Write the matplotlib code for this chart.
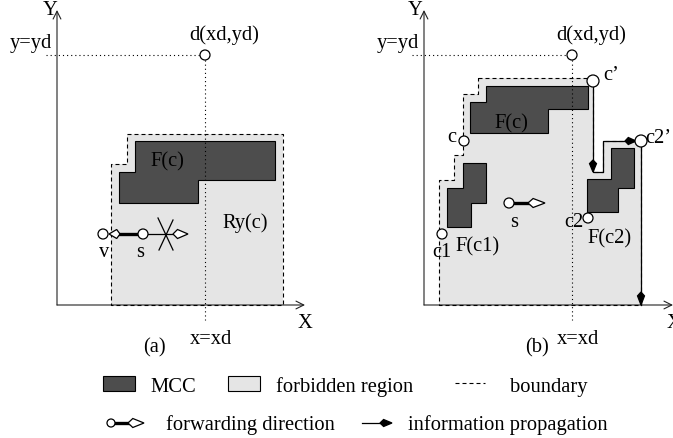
import matplotlib
matplotlib.use('Agg')
import matplotlib.pyplot as plt
from matplotlib.patches import Polygon, Circle, Rectangle

plt.rcParams['font.family'] = ['Liberation Serif', 'DejaVu Serif']
FS = 14.8

# ---- diagram geometry (pixel coords, y grows downward) ----
# panel (a)
axis_a = (57, 305, 10, 305)           # x of Y axis, y of X axis, top of Y, right end of X
dest_a = (205, 55)
forbidden_a = [(127, 134), (283, 134), (283, 305), (111, 305), (111, 164), (127, 164)]
mcc_a = [(135, 141), (275, 141), (275, 180), (198, 180), (198, 203), (119, 203), (119, 172), (135, 172)]
v_a = (103, 234)
s_a = (143, 234)

# panel (b)
axis_b = (424, 305, 10, 673)
dest_b = (572, 55)
forbidden_b = [(478, 78), (593, 78), (593, 172), (603, 172), (603, 141), (641, 141), (641, 305),
               (439, 305), (439, 180), (454, 180), (454, 155), (463, 155), (463, 94), (478, 94)]
mcc_c = [(486, 86), (588, 86), (588, 109), (548, 109), (548, 133), (470, 133), (470, 102), (486, 102)]
mcc_c1 = [(463, 163), (486, 163), (486, 203), (471, 203), (471, 227), (447, 227), (447, 188), (463, 188)]
mcc_c2 = [(611, 148), (634, 148), (634, 188), (618, 188), (618, 212), (587, 212), (587, 179), (611, 179)]
corners_b = {"c": (464, 141), "c'": (593, 81), "c1": (442, 234), "c2": (588, 218), "c2'": (641, 141)}
s_b = (509, 203)
propagation = [(593, 86), (593, 172), (603, 172), (603, 141), (636, 141)]
propagation2 = [(641, 146), (641, 305)]

labels = [
    ("Y", 43, 15), ("y=yd", 10, 48), ("d(xd,yd)", 189, 40), ("F(c)", 150, 166), ("Ry(c)", 222, 228),
    ("v", 99, 257), ("s", 136, 257), ("X", 298, 328), ("x=xd", 190, 344), ("(a)", 143, 352),
    ("Y", 408, 15), ("y=yd", 377, 48), ("d(xd,yd)", 556, 40), ("c\u2019", 603, 80), ("F(c)", 494, 128),
    ("c", 447, 142), ("c2\u2019", 645, 143), ("s", 510, 227), ("F(c1)", 455, 251), ("c1", 432, 257),
    ("c2", 564, 227), ("F(c2)", 587, 243), ("X", 667, 328), ("x=xd", 557, 344), ("(b)", 525, 352),
]

legend_row1 = [("MCC", 150), ("forbidden region", 276), ("boundary", 510)]
legend_row2 = [("forwarding direction", 166), ("information propagation", 408)]

LIGHT = '#e5e5e5'
DARK = '#4d4d4d'
DASH = (0, (3.6, 2.7))
DOT = (0, (1, 2.7))

fig = plt.figure(figsize=(6.73, 4.38), dpi=100)
ax = fig.add_axes([0, 0, 1, 1])
ax.set_xlim(0, 673)
ax.set_ylim(438, 0)
ax.axis('off')


def kite(x, y, dx, dy, L, W, filled):
    px, py = -dy, dx
    pts = [(x, y), (x + 0.3 * L * dx + W * px, y + 0.3 * L * dy + W * py),
           (x + L * dx, y + L * dy), (x + 0.3 * L * dx - W * px, y + 0.3 * L * dy - W * py)]
    ax.add_patch(Polygon(pts, closed=True, fc='black' if filled else 'white', ec='black', lw=0.9, zorder=6))


def circle(x, y, r=5):
    ax.add_patch(Circle((x, y), r, fc='white', ec='black', lw=0.9, zorder=7))


def axes_lines(ax_def):
    x0, y0, ytop, xr = ax_def
    ax.annotate('', xy=(x0, ytop), xytext=(x0, y0),
                arrowprops=dict(arrowstyle='->', lw=0.8, color='#222222', mutation_scale=14, shrinkA=0, shrinkB=0), zorder=3)
    ax.annotate('', xy=(xr, y0), xytext=(x0, y0),
                arrowprops=dict(arrowstyle='->', lw=0.8, color='#222222', mutation_scale=14, shrinkA=0, shrinkB=0), zorder=3)


def region(pts):
    ax.add_patch(Polygon(pts, closed=True, fc=LIGHT, ec='none', zorder=1))
    xs = [p[0] for p in pts] + [pts[0][0]]
    ys = [p[1] for p in pts] + [pts[0][1]]
    ax.plot(xs, ys, color='black', lw=0.8, ls=DASH, zorder=4)


def mcc(pts):
    ax.add_patch(Polygon(pts, closed=True, fc=DARK, ec='black', lw=0.8, zorder=2))


# panel (a)
region(forbidden_a)
mcc(mcc_a)
axes_lines(axis_a)
ax.plot([46, dest_a[0] - 5], [dest_a[1], dest_a[1]], color='black', lw=0.8, ls=DOT, zorder=3)
ax.plot([dest_a[0], dest_a[0]], [dest_a[1] + 5, 320], color='black', lw=0.8, ls=DOT, zorder=3)
circle(*dest_a)
ax.plot([s_a[0] - 5, 120], [s_a[1], s_a[1]], color='black', lw=2.4, zorder=5)
kite(120, v_a[1], -1, 0, 11, 4.5, False)
circle(*v_a)
circle(*s_a)
ax.plot([s_a[0] + 5, 173], [s_a[1], s_a[1]], color='black', lw=0.9, zorder=5)
kite(173, s_a[1], 1, 0, 15, 4.5, False)
ax.plot([158, 173], [218, 250], color='black', lw=0.9, zorder=5)
ax.plot([173, 159], [220, 250], color='black', lw=0.9, zorder=5)

# panel (b)
region(forbidden_b)
for m in (mcc_c, mcc_c1, mcc_c2):
    mcc(m)
axes_lines(axis_b)
ax.plot([412, dest_b[0] - 5], [dest_b[1], dest_b[1]], color='black', lw=0.8, ls=DOT, zorder=3)
ax.plot([dest_b[0], dest_b[0]], [dest_b[1] + 5, 320], color='black', lw=0.8, ls=DOT, zorder=3)
circle(*dest_b)
ax.plot([p[0] for p in propagation], [p[1] for p in propagation], color='black', lw=0.9, zorder=5)
ax.plot([p[0] for p in propagation2], [p[1] for p in propagation2], color='black', lw=0.9, zorder=5)
kite(593, 160, 0, 1, 12, 3.5, True)
kite(625, 141, 1, 0, 11, 3.5, True)
kite(641, 292, 0, 1, 13, 3.5, True)
for name, (cx, cy) in corners_b.items():
    circle(cx, cy, 6 if name in ("c'", "c2'") else 5)
ax.plot([s_b[0] + 5, 529], [s_b[1], s_b[1]], color='black', lw=2.4, zorder=5)
kite(528, s_b[1], 1, 0, 17, 4.5, False)
circle(*s_b)

for txt, x, y in labels:
    ax.text(x, y, txt, fontsize=FS, ha='left', va='baseline', zorder=8)

# legend
ax.add_patch(Rectangle((103, 376), 32, 15, fc=DARK, ec='black', lw=0.8))
ax.add_patch(Rectangle((228, 376), 32, 15, fc=LIGHT, ec='black', lw=0.8))
ax.plot([455, 485], [383, 383], color='black', lw=0.8, ls=DASH)
for txt, x in legend_row1:
    ax.text(x, 392, txt, fontsize=FS, ha='left', va='baseline')
ax.plot([114, 129], [423, 423], color='black', lw=2.4, zorder=5)
kite(128, 423, 1, 0, 16, 4.5, False)
circle(111, 423, 4)
ax.plot([362, 382], [423, 423], color='black', lw=0.9)
kite(380, 423, 1, 0, 12, 3.5, True)
for txt, x in legend_row2:
    ax.text(x, 430, txt, fontsize=FS, ha='left', va='baseline')

fig.savefig('out.png', dpi=100)
